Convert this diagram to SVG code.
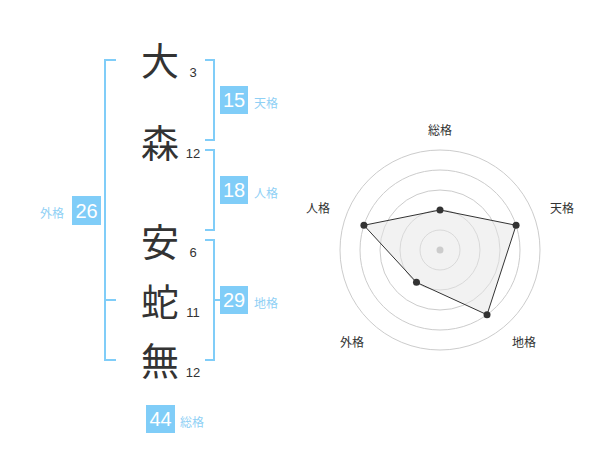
<svg xmlns="http://www.w3.org/2000/svg" width="600" height="470" viewBox="0 0 600 470">
<style>
.kanji{font-family:"Noto Sans CJK JP","Noto Sans CJK SC",sans-serif;font-size:38px;fill:#333;text-anchor:middle}
.stroke{font-family:"Liberation Sans",Arial,sans-serif;font-size:13px;fill:#333;text-anchor:middle}
.box{fill:#80cdf8}
.boxnum{font-family:"Liberation Sans",Arial,sans-serif;font-size:20px;fill:#fff;text-anchor:middle}
.lbl{font-family:"Noto Sans CJK JP","Noto Sans CJK SC",sans-serif;font-size:12px;fill:#8fd0f5}
.br{fill:none;stroke:#80cdf8;stroke-width:2}
.ring{fill:none;stroke:#cccccc;stroke-width:1}
.axlbl{font-family:"Noto Sans CJK JP","Noto Sans CJK SC",sans-serif;font-size:12px;fill:#333;text-anchor:middle}
.pt{fill:#333}
</style>
<rect width="600" height="470" fill="#fff"/>
<g id="connectors">
<path class="br" d="M116,60 H105 V360 H116 M105,300 H116"/>
<path class="br" d="M205,60 H214 V140 H205"/>
<path class="br" d="M205,150 H214 V230 H205"/>
<path class="br" d="M205,240 H214 V360 H205 M214,300 H220"/>
</g>
<g id="name">
<g id="c1"><text class="kanji" x="160" y="75">大</text><text class="stroke" x="193" y="77">3</text></g>
<g id="c2"><text class="kanji" x="160" y="157">森</text><text class="stroke" x="193" y="158">12</text></g>
<g id="c3"><text class="kanji" x="160" y="256">安</text><text class="stroke" x="193" y="257">6</text></g>
<g id="c4"><text class="kanji" x="160" y="316">蛇</text><text class="stroke" x="193" y="317">11</text></g>
<g id="c5"><text class="kanji" x="160" y="375">無</text><text class="stroke" x="193" y="377">12</text></g>
</g>
<g id="tenkaku"><rect class="box" x="220" y="86" width="28" height="28"/><text class="boxnum" x="234" y="107">15</text><text class="lbl" x="254" y="108">天格</text></g>
<g id="jinkaku"><rect class="box" x="220" y="176" width="28" height="28"/><text class="boxnum" x="234" y="197">18</text><text class="lbl" x="254" y="198">人格</text></g>
<g id="gaikaku"><rect class="box" x="72" y="196" width="29" height="29"/><text class="boxnum" x="86.5" y="218">26</text><text class="lbl" x="40" y="218">外格</text></g>
<g id="chikaku"><rect class="box" x="220" y="286" width="28" height="28"/><text class="boxnum" x="234" y="307">29</text><text class="lbl" x="254" y="308">地格</text></g>
<g id="soukaku"><rect class="box" x="146" y="405" width="29" height="28"/><text class="boxnum" x="160.5" y="426">44</text><text class="lbl" x="180" y="427">総格</text></g>
<g id="radar">
<circle class="ring" cx="440" cy="250" r="20"/>
<circle class="ring" cx="440" cy="250" r="40"/>
<circle class="ring" cx="440" cy="250" r="60"/>
<circle class="ring" cx="440" cy="250" r="80"/>
<circle class="ring" cx="440" cy="250" r="100"/>
<polygon points="440,210 516.08,225.28 487.02,314.72 416.49,282.36 363.92,225.28" fill="#e6e6e6" fill-opacity="0.5" stroke="#333" stroke-width="1"/>
<circle cx="440" cy="250" r="3.5" fill="#cccccc"/>
<circle class="pt" cx="440" cy="210" r="3.5"/>
<circle class="pt" cx="516.08" cy="225.28" r="3.5"/>
<circle class="pt" cx="487.02" cy="314.72" r="3.5"/>
<circle class="pt" cx="416.49" cy="282.36" r="3.5"/>
<circle class="pt" cx="363.92" cy="225.28" r="3.5"/>
<text class="axlbl" x="440" y="134.5">総格</text>
<text class="axlbl" x="562" y="212.5">天格</text>
<text class="axlbl" x="318" y="212.5">人格</text>
<text class="axlbl" x="352" y="346.5">外格</text>
<text class="axlbl" x="524" y="346.5">地格</text>
</g>
</svg>
